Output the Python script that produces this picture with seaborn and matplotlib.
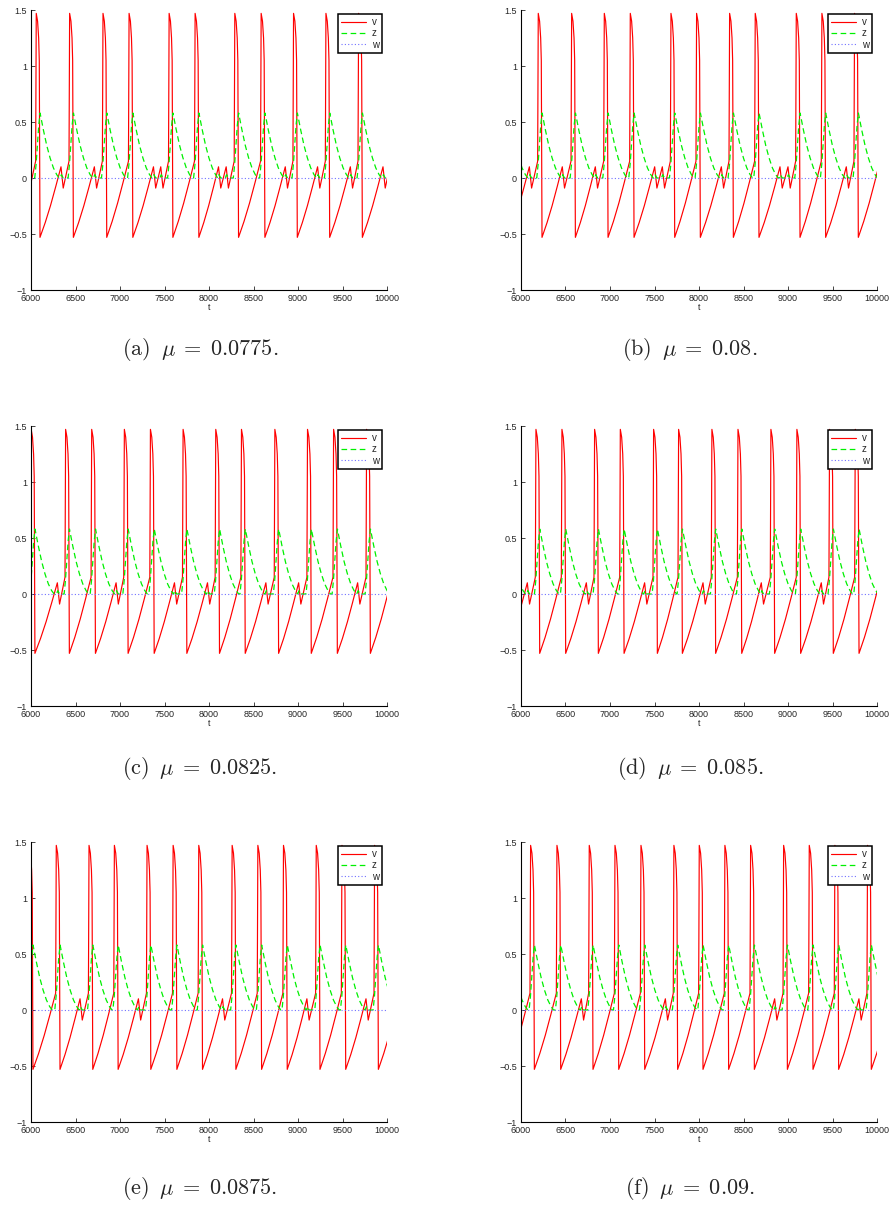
import pandas as pd
import seaborn as sns
from matplotlib import pyplot as plt
from matplotlib.lines import Line2D

# ---- values -------------------------------------------------------------
MU_VALUES = ["0.0775", "0.08", "0.0825", "0.085", "0.0875", "0.09"]
PANEL_TAGS = ["a", "b", "c", "d", "e", "f"]

# spike onset times of v (first / last ones lie just outside the window)
SPIKES_A = [5677, 6052, 6427, 6802, 7095, 7545, 7837, 8283, 8579, 8943, 9307, 9674, 10045]
SPIKES_B = [5812, 6187, 6562, 6929, 7221, 7678, 7966, 8337, 8625, 9086, 9374, 9741, 10034]
SPIKES_C = [5995, 6382, 6675, 7042, 7335, 7702, 8069, 8358, 8733, 9100, 9393, 9764, 10057]
SPIKES_D = [5786, 6161, 6453, 6820, 7109, 7483, 7764, 8138, 8431, 8801, 9093, 9460, 9749, 10042]
SPIKES_E = [5973, 6277, 6645, 6930, 7297, 7590, 7878, 8253, 8542, 8830, 9198, 9487, 9854, 10147]
SPIKES_F = [5811, 6101, 6397, 6760, 7049, 7341, 7711, 7996, 8284, 8573, 8944, 9232, 9520, 9887, 10180]

# peaks of the small sub-threshold oscillations of v
BUMPS_A = [5962, 6337, 6712, 7376, 7458, 8107, 8193, 8857, 9220, 9588, 9955]
BUMPS_B = [6094, 6464, 6835, 7502, 7588, 8251, 8910, 9000, 9655]
BUMPS_C = [6296, 6956, 7612, 7983, 8639, 9007, 9670]
BUMPS_D = [6071, 6734, 7389, 8045, 8700, 9374]
BUMPS_E = [6551, 7207, 8152, 9100, 9764]
BUMPS_F = [6678, 7622, 8850, 9797]

# shape of one spike of v (time after onset, value)
SPIKE_DT = [0, 7, 22, 34, 41, 49]
SPIKE_V = [0.15, 1.47, 1.40, 1.25, 1.05, -0.53]
# recovery ramp after the drop (fraction of time, fraction of rise)
RAMP_FT = [0.25, 0.50, 0.75]
RAMP_FV = [0.21, 0.45, 0.72]
# small oscillation: peak then dip
BUMP_DT = [0, 25]
BUMP_V = [0.10, -0.09]

# z: rise during the spike, then decay back to zero
Z_RISE_DT = [-10, 5, 20, 35, 50]
Z_RISE = [0.0, 0.12, 0.30, 0.47, 0.58]
Z_DECAY_DT = [37, 75, 112, 150, 187, 215]
Z_DECAY = [0.43, 0.29, 0.18, 0.09, 0.03, 0.0]
Z_BUMP_DT = [-10, 5, 25]
Z_BUMP = [0.0, 0.03, 0.0]

W_LEVEL = 0.0
T_RANGE = [6000, 10000]
X_TICKS = list(range(6000, 10001, 500))
Y_TICKS = [-1, -0.5, 0, 0.5, 1, 1.5]
Y_TICK_LABELS = ["\u22121", "\u22120.5", "0", "0.5", "1", "1.5"]

SPIKES = [SPIKES_A, SPIKES_B, SPIKES_C, SPIKES_D, SPIKES_E, SPIKES_F]
BUMPS = [BUMPS_A, BUMPS_B, BUMPS_C, BUMPS_D, BUMPS_E, BUMPS_F]


def build_v(spikes, bumps):
    t, v = [], []
    for i, s in enumerate(spikes):
        t += [s + d for d in SPIKE_DT]
        v += SPIKE_V
        if i + 1 == len(spikes):
            break
        nxt = spikes[i + 1]
        inner = [b for b in bumps if s < b < nxt]
        t0, v0 = t[-1], v[-1]
        if inner:
            t1, v1 = inner[0], BUMP_V[0]
        else:
            t1, v1 = nxt, SPIKE_V[0]
        for ft, fv in zip(RAMP_FT, RAMP_FV):
            t.append(t0 + ft * (t1 - t0))
            v.append(v0 + fv * (v1 - v0))
        for b in inner:
            t += [b + d for d in BUMP_DT]
            v += BUMP_V
    return t, v


def build_z(spikes, bumps):
    t, z = [], []
    for s in spikes:
        t += [s + d for d in Z_RISE_DT] + [s + 50 + d for d in Z_DECAY_DT]
        z += Z_RISE + Z_DECAY
    # small z wiggles at the sub-threshold bumps
    for b in bumps:
        t += [b + d for d in Z_BUMP_DT]
        z += Z_BUMP
    df = pd.DataFrame({"t": t, "z": z}).sort_values("t")
    return df["t"].tolist(), df["z"].tolist()


sns.set_theme(style="ticks", rc={
    "xtick.direction": "in", "ytick.direction": "in",
    "xtick.major.size": 3, "ytick.major.size": 3,
    "xtick.major.width": 0.6, "ytick.major.width": 0.6,
    "axes.linewidth": 0.8, "axes.edgecolor": "black",
    "xtick.labelsize": 6.5, "ytick.labelsize": 6.5,
    "xtick.major.pad": 3, "ytick.major.pad": 3,
    "mathtext.fontset": "cm",
})
plt.rcParams["font.family"] = ["Liberation Sans", "DejaVu Sans"]

W, H = 891, 1205
fig = plt.figure(figsize=(W / 100, H / 100), dpi=100)

lefts = [31, 521]
tops = [10, 426, 842]
caption_y = [349, 768, 1188]
caption_x = [200, 690]

for k in range(6):
    row, col = divmod(k, 2)
    ax = fig.add_axes([lefts[col] / W, 1 - (tops[row] + 280) / H, 356 / W, 280 / H])

    tv, vv = build_v(SPIKES[k], BUMPS[k])
    tz, zz = build_z(SPIKES[k], BUMPS[k])

    sns.lineplot(x=tv, y=vv, ax=ax, color="#ff0000", linewidth=0.85,
                 estimator=None, sort=False, errorbar=None)
    sns.lineplot(x=tz, y=zz, ax=ax, color="#00f000", linewidth=0.9,
                 linestyle=(0, (4.5, 2.8)), estimator=None, sort=False, errorbar=None)
    sns.lineplot(x=T_RANGE, y=[W_LEVEL, W_LEVEL], ax=ax, color="#7070ff",
                 linewidth=0.8, linestyle=(0, (1, 2)), estimator=None, sort=False,
                 errorbar=None)

    ax.set_xlim(*T_RANGE)
    ax.set_ylim(-1, 1.5)
    ax.set_xticks(X_TICKS)
    ax.set_yticks(Y_TICKS)
    ax.set_yticklabels(Y_TICK_LABELS)
    ax.set_xlabel("t", fontsize=6.5, labelpad=0)
    ax.set_ylabel("")
    sns.despine(ax=ax)

    handles = [
        Line2D([], [], color="#ff0000", linewidth=0.85),
        Line2D([], [], color="#00f000", linewidth=0.9, linestyle=(0, (4.5, 2.8))),
        Line2D([], [], color="#7070ff", linewidth=0.8, linestyle=(0, (1, 2))),
    ]
    leg = ax.legend(handles, ["v", "z", "w"], loc="upper right",
                    bbox_to_anchor=(1 - 5 / 356, 1 - 4 / 280), borderaxespad=0,
                    fontsize=7, handlelength=2.6, handletextpad=0.6,
                    borderpad=0.3, labelspacing=0.15, fancybox=False,
                    framealpha=1, edgecolor="black")
    leg.get_frame().set_linewidth(1.1)

    fig.text(caption_x[col] / W, 1 - caption_y[row] / H,
             "(%s) $\\,\\mu\\;=\\;%s$." % (PANEL_TAGS[k], MU_VALUES[k]),
             ha="center", va="center", fontsize=16, family="cmr10")

fig.savefig("out.png", dpi=100)
